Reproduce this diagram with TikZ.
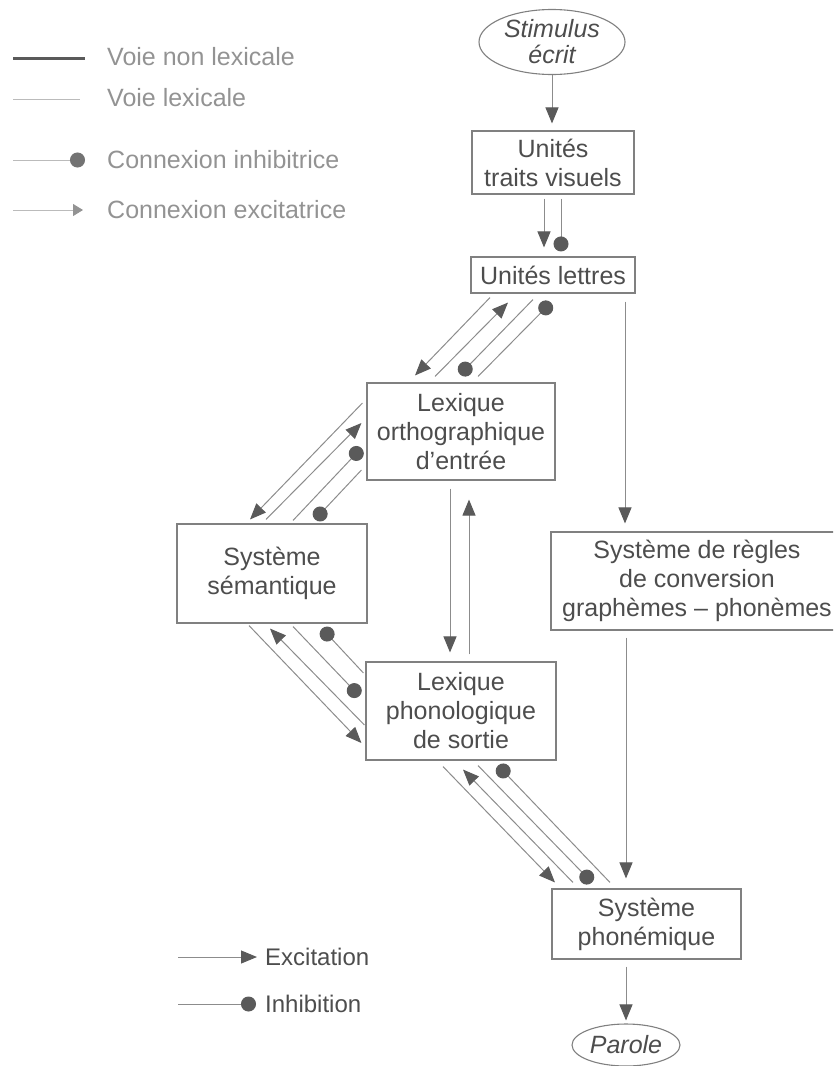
\documentclass[tikz,border=0pt]{standalone}
\usepackage{fontspec}
\setmainfont{Liberation Sans}
\usetikzlibrary{arrows.meta,shapes.geometric,calc}
\definecolor{boxc}{HTML}{808080}
\definecolor{txtc}{HTML}{4D4D4D}
\definecolor{linec}{HTML}{8C8C8C}
\definecolor{headc}{HTML}{5A5A5A}
\definecolor{legc}{HTML}{939393}
\definecolor{legl}{HTML}{BBBBBB}
\begin{document}
\begin{tikzpicture}[x=1pt,y=-1pt,
  box/.style={draw=boxc,line width=1.1pt,text=txtc,align=center,inner sep=0pt,font=\fontsize{25}{29}\selectfont},
  oval/.style={ellipse,draw=boxc,line width=1.1pt,text=txtc,align=center,inner sep=0pt,font=\fontsize{25}{26}\selectfont\itshape},
  conn/.style={draw=linec,line width=1pt},
  exc/.style={conn,-{Triangle[length=16pt,width=13pt,fill=headc,color=headc]}},
  inh/.style={conn,-{Circle[length=15pt,fill=headc,color=headc]}},
  legtext/.style={anchor=west,inner sep=0pt,text=legc,font=\fontsize{25}{29}\selectfont},
  legtextb/.style={anchor=west,inner sep=0pt,text=txtc,font=\fontsize{24}{29}\selectfont},
]
\useasboundingbox (0,0) rectangle (833,1066);
\clip (0,0) rectangle (833,1066);

% ---------- nodes ----------
\node[oval,minimum width=146pt,minimum height=65pt] (stim) at (552,42) {Stimulus\\écrit};
\node[box,minimum width=162pt,minimum height=63pt] (utv) at (553,162.5) {Unités\\traits visuels};
\node[box,minimum width=164pt,minimum height=36pt] (ul) at (553,275) {Unités lettres};
\node[box,minimum width=188pt,minimum height=97pt] (lo) at (461,431.5) {Lexique\\orthographique\\d’entrée};
\node[box,minimum width=190pt,minimum height=99pt] (ss) at (272,573.5) {Système\\sémantique};
\node[box,minimum width=190pt,minimum height=98pt] (lp) at (461,711) {Lexique\\phonologique\\de sortie};
\node[box,minimum width=292pt,minimum height=98pt] (sr) at (697,581) {Système de règles\\de conversion\\graphèmes – phonèmes};
\node[box,minimum width=189pt,minimum height=70pt] (sp) at (646.5,924) {Système\\phonémique};
\node[oval,minimum width=108pt,minimum height=42pt] (par) at (626,1045) {Parole};

% ---------- vertical connectors ----------
\draw[exc] (stim.south) -- ($(utv.north)+(-1,-7)$);
\draw[exc] ($(utv.south)+(-9,4)$) -- ($(ul.north)+(-9,-9)$);
\draw[inh] ($(utv.south)+(8,4)$) -- ($(ul.north)+(8,-5)$);
\draw[exc] ($(ul.south)+(72,8)$) -- ($(sr.north)+(-72,-8)$);
\draw[exc] ($(sr.south)+(-71,7)$) -- ($(sp.north)+(-20.5,-10)$);
\draw[exc] ($(sp.south)+(-20.5,7)$) -- ($(par.north)+(0,-3)$);
\draw[exc] ($(lo.south)+(-11,8)$) -- ($(lp.north)+(-11,-9)$);
\draw[exc] ($(lp.north)+(8,-7)$) -- ($(lo.south)+(8,19)$);

% ---------- bundle: lettres <-> lexique orthographique ----------
\draw[exc] ($(ul.south)+(-63,4)$) -- ($(lo.north)+(-46,-7)$);
\draw[exc] ($(lo.north)+(-26,-6)$) -- ($(ul.south)+(-45,9)$);
\draw[inh] ($(ul.south)+(-20,6)$) -- ($(lo.north)+(-1,-8)$);
\draw[inh] ($(lo.north)+(17,-6)$) -- ($(ul.south)+(-2,9)$);

% ---------- bundle: lexique orthographique <-> semantique ----------
\draw[exc] ($(lo.west)+(-4,-28.5)$) -- ($(ss.north)+(-22,-4)$);
\draw[exc] ($(ss.north)+(-6,-4)$) -- ($(lo.west)+(-5,-8.5)$);
\draw[inh] ($(ss.north)+(21,-3)$) -- ($(lo.west)+(-5,16.5)$);
\draw[inh] ($(lo.west)+(-5,38.5)$) -- ($(ss.north)+(43,-4)$);

% ---------- bundle: semantique <-> lexique phonologique ----------
\draw[exc] ($(ss.south)+(-23,2)$) -- ($(lp.west)+(-4,32)$);
\draw[exc] ($(lp.west)+(-1,14)$) -- ($(ss.south)+(-2,5)$);
\draw[inh] ($(ss.south)+(21,3)$) -- ($(lp.west)+(-6,-15)$);
\draw[inh] ($(lp.west)+(-2,-38)$) -- ($(ss.south)+(50,5)$);

% ---------- bundle: lexique phonologique <-> phonemique ----------
\draw[exc] ($(lp.south)+(-18,6)$) -- ($(sp.north)+(-91.5,-6)$);
\draw[exc] ($(sp.north)+(-73.5,-6)$) -- ($(lp.south)+(2,9)$);
\draw[inh] ($(lp.south)+(17,5)$) -- ($(sp.north)+(-54.5,-6)$);
\draw[inh] ($(sp.north)+(-36.5,-6)$) -- ($(lp.south)+(37,5)$);

% ---------- legend (top) ----------
\node[legtext] (l1) at (107,57) {Voie non lexicale};
\node[legtext] (l2) at (107,98) {Voie lexicale};
\node[legtext] (l3) at (107,160) {Connexion inhibitrice};
\node[legtext] (l4) at (107,210) {Connexion excitatrice};
\coordinate (l1s) at (13,58);
\coordinate (l2s) at (13,99);
\coordinate (l3s) at (13,160);
\coordinate (l4s) at (13,210);
\draw[draw=headc,line width=3pt] (l1s) -- ($(l1.west)+(-22,1)$);
\draw[draw=legl,line width=1pt] (l2s) -- ($(l2.west)+(-27,1)$);
\draw[draw=legl,line width=1pt,-{Circle[length=15pt,fill=headc!85,color=headc!85]}] (l3s) -- ($(l3.west)+(-22,0)$);
\draw[draw=legl,line width=1pt,-{Triangle[length=10pt,width=12pt,fill=legc,color=legc]}] (l4s) -- ($(l4.west)+(-24,0)$);

% ---------- legend (bottom) ----------
\node[legtextb] (lex) at (265,957) {Excitation};
\node[legtextb] (lin) at (265,1004) {Inhibition};
\coordinate (lexs) at (178,957);
\coordinate (lins) at (178,1004);
\draw[exc] (lexs) -- ($(lex.west)+(-8,0)$);
\draw[inh] (lins) -- ($(lin.west)+(-9,0)$);
\end{tikzpicture}
\end{document}
